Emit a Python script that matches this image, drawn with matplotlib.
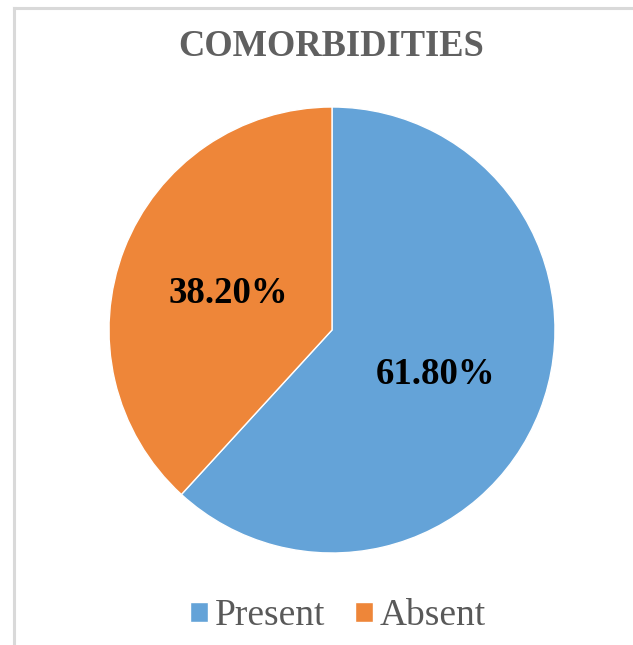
#importing the packages
import matplotlib
matplotlib.use("Agg")
import matplotlib.pyplot as plt
from matplotlib.lines import Line2D

#data of the chart
categories = ["Present", "Absent"]
values = [61.80, 38.20]
colors = ["#64A3D8", "#EE8639"]

plt.rcParams['font.family'] = ['Liberation Serif', 'DejaVu Serif']

W, H = 633, 645
fig = plt.figure(figsize=(W / 100, H / 100), dpi=100)

#light gray frame (only top and left visible)
fig.add_artist(Line2D([14 / W, 14 / W], [0, 1 - 7.5 / H], transform=fig.transFigure,
                      color="#d9d9d9", lw=2.2))
fig.add_artist(Line2D([14 / W, 1], [1 - 7.5 / H, 1 - 7.5 / H], transform=fig.transFigure,
                      color="#d9d9d9", lw=2.2))

#pie axes
cx, cy, r = 332, 330, 223
ax = fig.add_axes([(cx - r) / W, (H - cy - r) / H, 2 * r / W, 2 * r / H])
wedges, texts, autotexts = ax.pie(values, colors=colors, startangle=90, counterclock=False,
                                  autopct='%.2f%%', pctdistance=0.5,
                                  wedgeprops=dict(edgecolor="white", linewidth=1),
                                  textprops=dict(fontsize=26.5, fontweight="bold", color="black"))
#nudge the labels a little lower
for t in autotexts:
    x, y = t.get_position()
    t.set_position((x, y - 0.018))
ax.set_xlim(-1, 1)
ax.set_ylim(-1, 1)
ax.set_aspect("equal")
ax.axis("off")

#title
fig.text(331 / W, 1 - 47 / H, "COMORBIDITIES", ha="center", va="center",
         fontsize=26.3, fontweight="bold", color="#606060")

#legend
fig.legend(wedges, categories, loc="center", bbox_to_anchor=(338 / W, 1 - 616 / H), ncol=2,
           frameon=False, fontsize=27, handlelength=0.48, handleheight=0.45,
           handletextpad=0.19, columnspacing=0.78, labelcolor="#595959")

plt.savefig("out.png", dpi=100)
